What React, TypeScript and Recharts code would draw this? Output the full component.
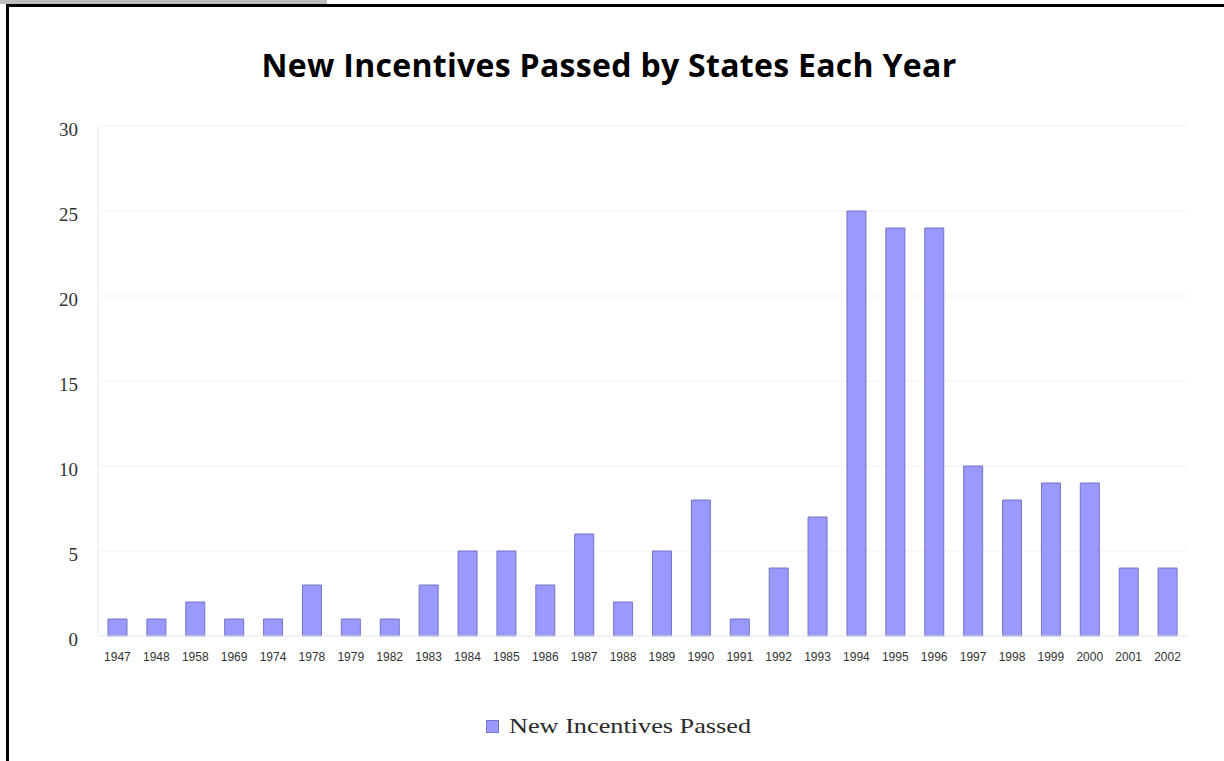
import { BarChart, Bar, XAxis, YAxis, CartesianGrid, Legend } from 'recharts';

const years = [
  '1947', '1948', '1958', '1969', '1974', '1978', '1979', '1982', '1983', '1984',
  '1985', '1986', '1987', '1988', '1989', '1990', '1991', '1992', '1993', '1994',
  '1995', '1996', '1997', '1998', '1999', '2000', '2001', '2002',
];
const incentives = [1, 1, 2, 1, 1, 3, 1, 1, 3, 5, 5, 3, 6, 2, 5, 8, 1, 4, 7, 25, 24, 24, 10, 8, 9, 9, 4, 4];
const yTicks = [0, 5, 10, 15, 20, 25, 30];
const seriesName = 'New Incentives Passed';
const title = 'New Incentives Passed by States Each Year';

const data = years.map((year, i) => ({ year, value: incentives[i] }));

const BAR_FILL = '#9999ff';
const BAR_EDGE = '#7474c4';

function LegendContent() {
  return (
    <div style={{ display: 'flex', alignItems: 'center' }}>
      <span
        style={{
          width: 13,
          height: 13,
          background: BAR_FILL,
          border: `1px solid ${BAR_EDGE}`,
          boxSizing: 'border-box',
          marginRight: 10,
        }}
      />
      <span
        style={{
          fontFamily: '"Liberation Serif", serif',
          fontSize: 21,
          color: '#2a2a2a',
          display: 'inline-block',
          transform: 'scaleX(1.25)',
          transformOrigin: 'left center',
          whiteSpace: 'nowrap',
        }}
      >
        {seriesName}
      </span>
    </div>
  );
}

export default function App() {
  return (
    <div style={{ position: 'absolute', left: 0, top: 0, width: 1224, height: 761, background: '#fff', overflow: 'hidden' }}>
      {/* grey tab + black frame */}
      <div style={{ position: 'absolute', left: 0, top: 0, width: 327, height: 4, background: '#bdbdbd' }} />
      <div
        style={{
          position: 'absolute',
          left: 6,
          top: 4,
          width: 1230,
          height: 770,
          borderTop: '3px solid #000',
          borderLeft: '3px solid #000',
        }}
      />

      <div
        style={{
          position: 'absolute',
          top: 43,
          left: 0,
          width: 1218,
          textAlign: 'center',
          fontFamily: '"Open Sans", sans-serif',
          fontWeight: 700,
          fontSize: 32,
          letterSpacing: 0.3,
          color: '#000',
        }}
      >
        {title}
      </div>

      <div style={{ position: 'absolute', left: 0, top: 0 }}>
        <BarChart width={1224} height={761} data={data} margin={{ top: 126, right: 37, bottom: 95, left: 8 }}>
          <CartesianGrid vertical={false} stroke="#f1f1f1" />
          <XAxis
            dataKey="year"
            interval={0}
            height={30}
            tickLine={false}
            tickMargin={10}
            axisLine={{ stroke: '#ececec' }}
            tick={{ fontSize: 12, fill: '#333', fontFamily: '"Liberation Sans", sans-serif' }}
          />
          <YAxis
            width={90}
            domain={[0, 30]}
            ticks={yTicks}
            tickLine={false}
            tickMargin={14}
            axisLine={{ stroke: '#ececec' }}
            tick={{ fontSize: 19, fill: '#333', fontFamily: '"Liberation Serif", serif', dy: 3 }}
          />
          <Legend
            layout="horizontal"
            verticalAlign="middle"
            align="center"
            wrapperStyle={{ top: 714, left: 486, width: 320 }}
            content={() => <LegendContent />}
          />
          <Bar
            dataKey="value"
            name={seriesName}
            fill={BAR_FILL}
            stroke={BAR_EDGE}
            strokeWidth={1}
            barSize={19}
            isAnimationActive={false}
          />
        </BarChart>
      </div>
    </div>
  );
}
